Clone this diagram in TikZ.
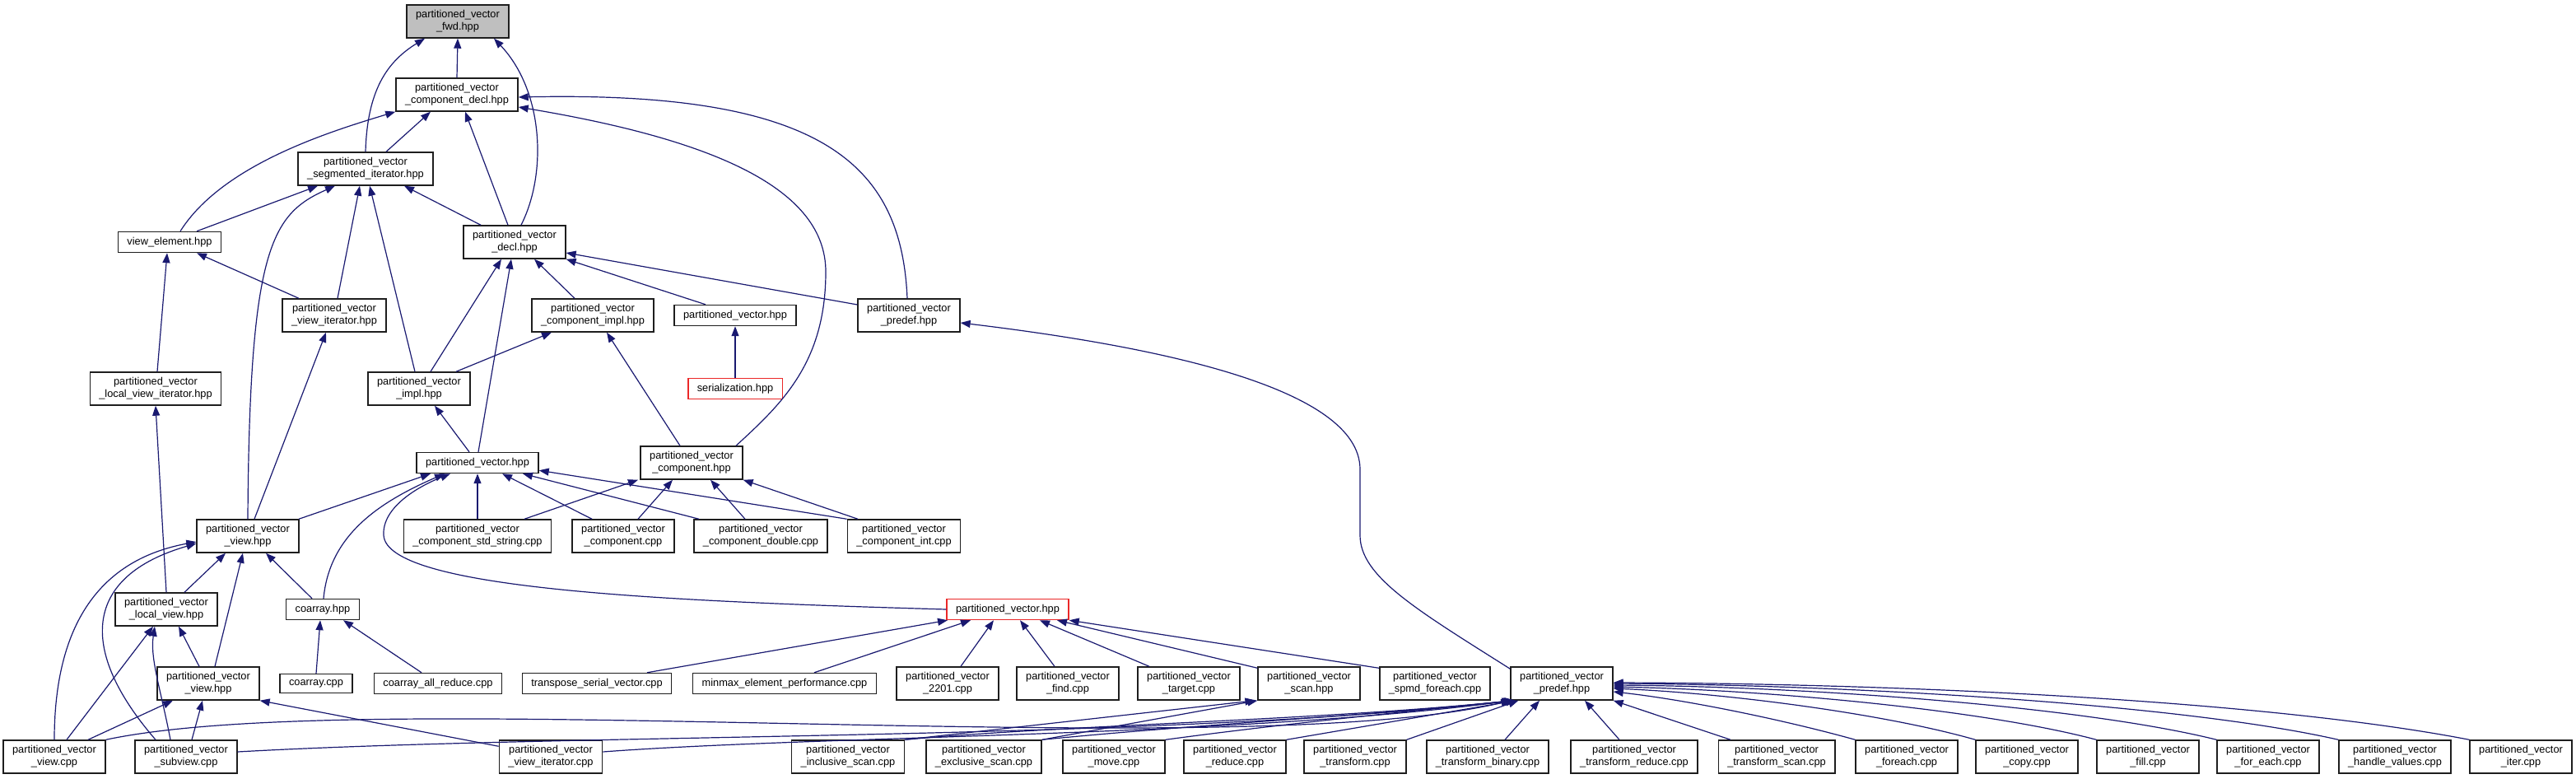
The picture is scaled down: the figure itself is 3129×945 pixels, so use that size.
\documentclass[tikz,border=0pt]{standalone}
\usepackage{fontspec}
\setmainfont{Liberation Sans}
\usepackage{xcolor}
\usepackage{tikz}
\usetikzlibrary{arrows.meta}
\definecolor{edgeblue}{RGB}{25, 25, 112}
\definecolor{rootgrey}{RGB}{191, 191, 191}
\definecolor{cutred}{RGB}{235, 40, 40}
\definecolor{boxline}{RGB}{30, 30, 30}
\newcommand{\pvname}{partitioned\_vector}

\begin{document}
\begin{tikzpicture}[
    x = 1pt, y = -1pt,
    every node/.style = {font=\fontsize{12.8}{15}\selectfont},
    filebox/.style = {
        rectangle, draw=boxline, fill=white,
        line width=1.5pt, align=center,
        inner xsep=11pt, inner ysep=6.5pt
    },
    rootbox/.style = {filebox, fill=rootgrey},
    cutbox/.style = {filebox, draw=cutred},
    arr/.style = {-{Triangle[length=12pt, width=9pt]}, edgeblue, line width=1.2pt},
]
\useasboundingbox (0,0) rectangle (3129,945);

% Top: the forward header
\node[rootbox] (fwd) at (556,26) {\pvname\\\_fwd.hpp};

% Headers
\node[filebox] (compdecl)  at (555,115)  {\pvname\\\_component\_decl.hpp};
\node[filebox] (segiter)   at (444,205)  {\pvname\\\_segmented\_iterator.hpp};
\node[filebox] (viewelem)  at (206,294)  {view\_element.hpp};
\node[filebox] (decl)      at (625,294)  {\pvname\\\_decl.hpp};
\node[filebox] (viewiterh) at (406,383)  {\pvname\\\_view\_iterator.hpp};
\node[filebox] (compimpl)  at (720,383)  {\pvname\\\_component\_impl.hpp};
\node[filebox] (pvtop)     at (893,383)  {\pvname.hpp};
\node[filebox] (predef)    at (1104,383) {\pvname\\\_predef.hpp};
\node[filebox] (lviewiter) at (189,472)  {\pvname\\\_local\_view\_iterator.hpp};
\node[filebox] (impl)      at (509,472)  {\pvname\\\_impl.hpp};
\node[cutbox]  (serial)    at (893,472)  {serialization.hpp};
\node[filebox] (pvhpp)     at (580,562)  {\pvname.hpp};
\node[filebox] (comphpp)   at (840,562)  {\pvname\\\_component.hpp};
\node[filebox] (viewh)     at (301,651)  {\pvname\\\_view.hpp};
\node[filebox] (lview)     at (202,740)  {\pvname\\\_local\_view.hpp};
\node[filebox] (coarrayh)  at (392,740)  {coarray.hpp};
\node[cutbox]  (pvred)     at (1224,740) {\pvname.hpp};
\node[filebox] (viewh2)    at (253,830)  {\pvname\\\_view.hpp};
\node[filebox] (scanh)     at (1590,830) {\pvname\\\_scan.hpp};
\node[filebox] (predefb)   at (1897,830) {\pvname\\\_predef.hpp};

% Component sources
\node[filebox] (cstdstr) at (580,651)  {\pvname\\\_component\_std\_string.cpp};
\node[filebox] (ccomp)   at (757,651)  {\pvname\\\_component.cpp};
\node[filebox] (cdouble) at (924,651)  {\pvname\\\_component\_double.cpp};
\node[filebox] (cint)    at (1098,651) {\pvname\\\_component\_int.cpp};

% Middle row of sources
\node[filebox] (coarraycpp) at (384,830)  {coarray.cpp};
\node[filebox] (coarrayall) at (532,830)  {coarray\_all\_reduce.cpp};
\node[filebox] (transpose)  at (725,830)  {transpose\_serial\_vector.cpp};
\node[filebox] (minmax)     at (953,830)  {minmax\_element\_performance.cpp};
\node[filebox] (c2201)      at (1151,830) {\pvname\\\_2201.cpp};
\node[filebox] (cfind)      at (1297,830) {\pvname\\\_find.cpp};
\node[filebox] (ctarget)    at (1444,830) {\pvname\\\_target.cpp};
\node[filebox] (spmd)       at (1743,830) {\pvname\\\_spmd\_foreach.cpp};

% Bottom row of sources
\node[filebox] (viewcpp)     at (66,919)   {\pvname\\\_view.cpp};
\node[filebox] (subview)     at (226,919)  {\pvname\\\_subview.cpp};
\node[filebox] (viewitercpp) at (669,919)  {\pvname\\\_view\_iterator.cpp};
\node[filebox] (incscan)     at (1030,919) {\pvname\\\_inclusive\_scan.cpp};
\node[filebox] (excscan)     at (1195,919) {\pvname\\\_exclusive\_scan.cpp};
\node[filebox] (cmove)       at (1353,919) {\pvname\\\_move.cpp};
\node[filebox] (creduce)     at (1500,919) {\pvname\\\_reduce.cpp};
\node[filebox] (ctransform)  at (1646,919) {\pvname\\\_transform.cpp};
\node[filebox] (ctbinary)    at (1807,919) {\pvname\\\_transform\_binary.cpp};
\node[filebox] (ctreduce)    at (1985,919) {\pvname\\\_transform\_reduce.cpp};
\node[filebox] (ctscan)      at (2158,919) {\pvname\\\_transform\_scan.cpp};
\node[filebox] (cforeach)    at (2316,919) {\pvname\\\_foreach.cpp};
\node[filebox] (ccopy)       at (2462,919) {\pvname\\\_copy.cpp};
\node[filebox] (cfill)       at (2609,919) {\pvname\\\_fill.cpp};
\node[filebox] (cforeach2)   at (2755,919) {\pvname\\\_for\_each.cpp};
\node[filebox] (chandle)     at (2909,919) {\pvname\\\_handle\_values.cpp};
\node[filebox] (citer)       at (3062,919) {\pvname\\\_iter.cpp};

% Arrows to fwd
\draw[arr] (compdecl.north) -- (fwd.south);
\draw[arr] (segiter.north) .. controls (446,110) and (470,75) .. ([xshift=-40pt]fwd.south);
\draw[arr] ([xshift=8pt]decl.north) .. controls (665,210) and (660,110) .. ([xshift=44pt]fwd.south);

% Arrows to component_decl
\draw[arr] ([xshift=25pt]segiter.north) -- ([xshift=-32pt]compdecl.south);
\draw[arr] ([xshift=13pt]viewelem.north) .. controls (270,200) and (400,160) .. (compdecl.south west);
\draw[arr] ([xshift=-8pt]decl.north) -- ([xshift=10pt]compdecl.south);
\draw[arr] ([xshift=54pt]comphpp.north) .. controls (950,490) and (1003,440) .. (1003,330)
    .. controls (1003,230) and (870,170) .. ([yshift=-15pt]compdecl.east);
\draw[arr] ([xshift=-2pt]predef.north) .. controls (1095,200) and (1000,110) .. ([yshift=-3pt]compdecl.east);

% Arrows to segmented_iterator
\draw[arr] ([xshift=33pt]viewelem.north) -- ([xshift=-58pt]segiter.south);
\draw[arr] (viewh.north) .. controls (303,300) and (330,260) .. ([xshift=-37pt]segiter.south);
\draw[arr] ([xshift=4pt]viewiterh.north) -- ([xshift=-7pt]segiter.south);
\draw[arr] ([xshift=-5pt]impl.north) -- ([xshift=5pt]segiter.south);
\draw[arr] ([xshift=-41pt]decl.north) -- ([xshift=47pt]segiter.south);

% Arrows to view_element and decl
\draw[arr] ([xshift=2pt]lviewiter.north) -- ([xshift=-3pt]viewelem.south);
\draw[arr] ([xshift=-43pt]viewiterh.north) -- ([xshift=33pt]viewelem.south);
\draw[arr] ([xshift=14pt]impl.north) -- ([xshift=-16pt]decl.south);
\draw[arr] ([xshift=1pt]pvhpp.north) -- ([xshift=-4pt]decl.south);
\draw[arr] ([xshift=-22pt]compimpl.north) -- ([xshift=24pt]decl.south);
\draw[arr] ([xshift=-36pt]pvtop.north) -- (decl.south east);
\draw[arr] ([yshift=13pt]predef.west) -- ([yshift=-13pt]decl.east);

% Next level
\draw[arr] (serial.north) -- (pvtop.south);
\draw[arr] ([xshift=45pt]impl.north) -- ([xshift=-50pt]compimpl.south);
\draw[arr] ([xshift=-14pt]comphpp.north) -- ([xshift=17pt]compimpl.south);
\draw[arr] ([xshift=8pt]viewh.north) -- ([xshift=-10pt]viewiterh.south);
\draw[arr] (lview.north) -- (lviewiter.south);
\draw[arr] ([xshift=-10pt]pvhpp.north) -- ([xshift=19pt]impl.south);
\draw[arr] ([yshift=-3pt]predefb.north west) .. controls (1720,740) and (1652,700) .. (1652,650)
    -- (1652,570) .. controls (1652,470) and (1400,420) .. ([yshift=-9pt]predef.east);

% Arrows to partitioned_vector.hpp
\draw[arr] ([xshift=62pt]viewh.north) -- ([xshift=-57pt]pvhpp.south);
\draw[arr] ([xshift=1pt]coarrayh.north) .. controls (400,650) and (460,610) .. ([xshift=-40pt]pvhpp.south);
\draw[arr] (pvred.west) .. controls (800,730) and (470,715) .. (466,650)
    .. controls (464,615) and (510,590) .. ([xshift=-33pt]pvhpp.south);
\draw[arr] (cstdstr.north) -- (pvhpp.south);
\draw[arr] ([xshift=-38pt]ccomp.north) -- ([xshift=30pt]pvhpp.south);
\draw[arr] ([xshift=-75pt]cdouble.north) -- ([xshift=55pt]pvhpp.south);
\draw[arr] (cint.north west) -- ([yshift=4pt]pvhpp.south east);

% Arrows to component.hpp
\draw[arr] ([xshift=57pt]cstdstr.north) -- ([xshift=-65pt]comphpp.south);
\draw[arr] ([xshift=18pt]ccomp.north) -- ([xshift=-23pt]comphpp.south);
\draw[arr] ([xshift=-19pt]cdouble.north) -- ([xshift=23pt]comphpp.south);
\draw[arr] ([xshift=-56pt]cint.north) -- (comphpp.south east);

% Arrows to view.hpp
\draw[arr] ([xshift=22pt]lview.north) -- ([xshift=-27pt]viewh.south);
\draw[arr] ([xshift=8pt]viewh2.north) -- ([xshift=-6pt]viewh.south);
\draw[arr] ([xshift=-13pt]coarrayh.north) -- ([xshift=22pt]viewh.south);
\draw[arr] (viewcpp.north) .. controls (66,760) and (120,680) .. ([yshift=-7pt]viewh.west);
\draw[arr] ([xshift=-37pt]subview.north) .. controls (95,790) and (100,700) .. ([yshift=-9pt]viewh.west);

% local_view, coarray, second view.hpp
\draw[arr] ([xshift=-11pt]viewh2.north) -- ([xshift=15pt]lview.south);
\draw[arr] ([xshift=15pt]viewcpp.north) -- ([xshift=-16pt]lview.south);
\draw[arr] ([xshift=-19pt]subview.north) .. controls (196,840) and (182,800) .. ([xshift=-14pt]lview.south);
\draw[arr] (coarraycpp.north) -- ([xshift=-3pt]coarrayh.south);
\draw[arr] ([xshift=-20pt]coarrayall.north) -- ([xshift=25pt]coarrayh.south);
\draw[arr] ([xshift=41pt]viewcpp.north) -- ([xshift=-43pt]viewh2.south);
\draw[arr] ([xshift=7pt]subview.north) -- ([xshift=-7pt]viewh2.south);
\draw[arr] ([yshift=-8pt]viewitercpp.north west) -- (viewh2.south east);

% Arrows to the red partitioned_vector.hpp
\draw[arr] ([xshift=61pt]transpose.north) -- ([xshift=-73pt]pvred.south);
\draw[arr] ([xshift=36pt]minmax.north) -- ([xshift=-45pt]pvred.south);
\draw[arr] ([xshift=16pt]c2201.north) -- ([xshift=-17pt]pvred.south);
\draw[arr] ([xshift=-16pt]cfind.north) -- ([xshift=15pt]pvred.south);
\draw[arr] ([xshift=-48pt]ctarget.north) -- ([xshift=39pt]pvred.south);
\draw[arr] ([yshift=-2pt]scanh.north west) -- ([xshift=60pt]pvred.south);
\draw[arr] ([yshift=-2pt]spmd.north west) -- (pvred.south east);

% Arrows to scan.hpp
\draw[arr] (incscan.north east) -- ([xshift=-3pt]scanh.south west);
\draw[arr] (excscan.north east) -- (scanh.south west);

% Arrows to predef.hpp (bottom), from the left
\draw[arr] (viewcpp.north east) .. controls (450,830) and (1500,930) .. ([xshift=1pt]predefb.south west);
\draw[arr] ([yshift=6pt]subview.east) .. controls (700,890) and (1400,900) .. ([xshift=2pt]predefb.south west);
\draw[arr] ([yshift=6pt]viewitercpp.east) .. controls (1000,893) and (1500,895) .. ([xshift=3pt]predefb.south west);
\draw[arr] (incscan.north east) .. controls (1300,880) and (1600,875) .. ([xshift=4pt]predefb.south west);
\draw[arr] (excscan.north east) .. controls (1450,880) and (1650,870) .. ([xshift=5pt]predefb.south west);
\draw[arr] (cmove.north east) .. controls (1550,880) and (1700,865) .. ([xshift=6pt]predefb.south west);
\draw[arr] (creduce.north east) -- ([xshift=7pt]predefb.south west);
\draw[arr] (ctransform.north east) -- ([xshift=10pt]predefb.south west);

% Arrows to predef.hpp (bottom), from the right
\draw[arr] ([xshift=21pt]ctbinary.north) -- ([xshift=-27pt]predefb.south);
\draw[arr] ([xshift=-18pt]ctreduce.north) -- ([xshift=28pt]predefb.south);
\draw[arr] ([xshift=-56pt]ctscan.north) -- (predefb.south east);
\draw[arr] (cforeach.north west) .. controls (2170,875) and (2050,850) .. ([yshift=-10pt]predefb.east);
\draw[arr] (ccopy.north west) .. controls (2290,867) and (2100,842) .. ([yshift=-6pt]predefb.east);
\draw[arr] (cfill.north west) .. controls (2410,862) and (2150,838) .. ([yshift=-4pt]predefb.east);
\draw[arr] (cforeach2.north west) .. controls (2530,858) and (2200,834) .. ([yshift=-2pt]predefb.east);
\draw[arr] (chandle.north west) .. controls (2650,855) and (2250,832) .. (predefb.east);
\draw[arr] (citer.north west) .. controls (2750,850) and (2300,830) .. ([yshift=1pt]predefb.east);

\end{tikzpicture}
\end{document}
